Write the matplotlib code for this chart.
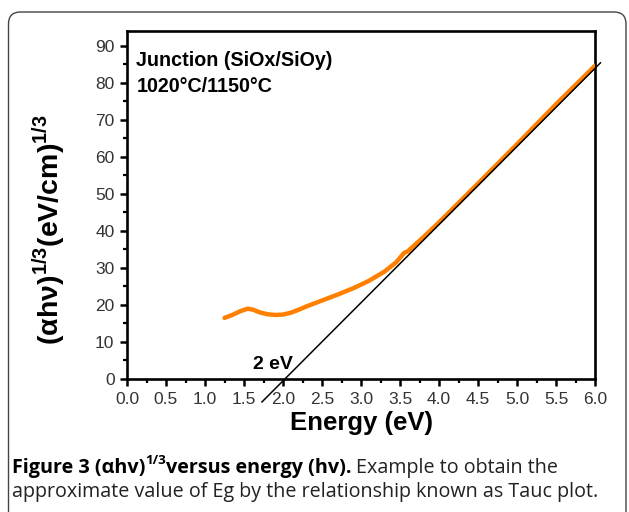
import matplotlib
matplotlib.use("Agg")
import matplotlib.pyplot as plt
from matplotlib.patches import FancyBboxPatch
from matplotlib.ticker import MultipleLocator

# ---- data ----
energy = [1.25, 1.35, 1.45, 1.55, 1.62, 1.70, 1.80, 1.90, 2.00, 2.10, 2.20, 2.30,
          2.50, 2.70, 2.90, 3.10, 3.30, 3.45, 3.55, 3.60, 3.80, 4.00, 4.50, 5.00,
          5.50, 6.00]
tauc = [16.5, 17.3, 18.3, 19.0, 18.7, 18.0, 17.5, 17.3, 17.4, 17.9, 18.7, 19.6,
        21.2, 22.8, 24.5, 26.5, 29.0, 31.5, 34.0, 34.5, 38.3, 42.3, 52.8, 63.4,
        74.2, 84.6]
fit_x = [1.73, 6.07]
fit_y = [-6.2, 85.4]
x_ticks = [0.0, 0.5, 1.0, 1.5, 2.0, 2.5, 3.0, 3.5, 4.0, 4.5, 5.0, 5.5, 6.0]
y_ticks = [0, 10, 20, 30, 40, 50, 60, 70, 80, 90]

plt.rcParams['font.family'] = ['Liberation Sans', 'DejaVu Sans']
plt.rcParams['mathtext.fontset'] = 'custom'
plt.rcParams['mathtext.rm'] = 'Liberation Sans'
plt.rcParams['mathtext.bf'] = 'Liberation Sans:bold'

W, H = 629, 512
fig = plt.figure(figsize=(W / 100, H / 100), dpi=100)

# frame
frame = FancyBboxPatch((0.085, -0.2), 6.175, 5.2,
                       boxstyle="round,pad=0,rounding_size=0.12",
                       transform=fig.dpi_scale_trans, facecolor='none',
                       edgecolor='#444444', linewidth=1.0, clip_on=False)
fig.patches.append(frame)

ax = fig.add_axes([127 / W, 1 - 379 / H, 468 / W, 348 / H])
ax.plot(energy, tauc, color='#FF8000', lw=3.2, solid_capstyle='round', zorder=3)
ax.plot(fit_x, fit_y, color='black', lw=1.1, clip_on=False, zorder=4)

ax.set_xlim(0, 6)
ax.set_ylim(0, 94)
ax.set_xticks(x_ticks)
ax.set_xticklabels([f"{v:.1f}" for v in x_ticks])
ax.set_yticks(y_ticks)
ax.xaxis.set_minor_locator(MultipleLocator(0.25))
ax.yaxis.set_minor_locator(MultipleLocator(5))
for s in ax.spines.values():
    s.set_linewidth(1.9)
ax.tick_params(which='major', direction='out', length=5, width=1.8,
               labelsize=12.5, pad=4, labelcolor='#333333')
ax.tick_params(which='minor', direction='out', length=3, width=1.6)

ax.set_xlabel('Energy (eV)', fontsize=18.5, fontweight='bold', labelpad=3)
ax.set_ylabel(r'(αhν)$^{\mathbf{1/3}}$(eV/cm)$^{\mathbf{1/3}}$', fontsize=20.5,
              fontweight='bold')
ax.yaxis.set_label_coords(-0.125, 0.43)

ax.text(0.02, 0.915, 'Junction (SiOx/SiOy)', transform=ax.transAxes,
        fontsize=14.2, fontweight='bold', va='center', ha='left')
ax.text(0.02, 0.84, '1020°C/1150°C', transform=ax.transAxes,
        fontsize=14.2, fontweight='bold', va='center', ha='left')
ax.text(1.62, 3.8, '2 eV', fontsize=14, fontweight='bold', va='center', ha='left')

# caption
cap_font = ['Open Sans', 'DejaVu Sans']
fs = 14.2
fig.canvas.draw()
r = fig.canvas.get_renderer()
x0 = 12 / W
y1 = 1 - 468 / H
y2 = 1 - 492 / H
t1 = fig.text(x0, y1, 'Figure 3 (αhv)', family=cap_font, fontweight='bold',
              fontsize=fs, va='center', ha='left')
bb = t1.get_window_extent(r)
t2 = fig.text(bb.x1 / W, y1 + 8 / H, '1/3', family=cap_font, fontweight='bold',
              fontsize=9.5, va='center', ha='left')
bb = t2.get_window_extent(r)
t3 = fig.text(bb.x1 / W, y1, 'versus energy (hv).', family=cap_font,
              fontweight='bold', fontsize=fs, va='center', ha='left')
bb = t3.get_window_extent(r)
fig.text(bb.x1 / W + 4 / W, y1, 'Example to obtain the', family=cap_font,
         fontsize=fs, va='center', ha='left', color='#222222')
fig.text(x0, y2, 'approximate value of Eg by the relationship known as Tauc plot.',
         family=cap_font, fontsize=fs, va='center', ha='left', color='#222222')

fig.savefig('out.png', dpi=100)
